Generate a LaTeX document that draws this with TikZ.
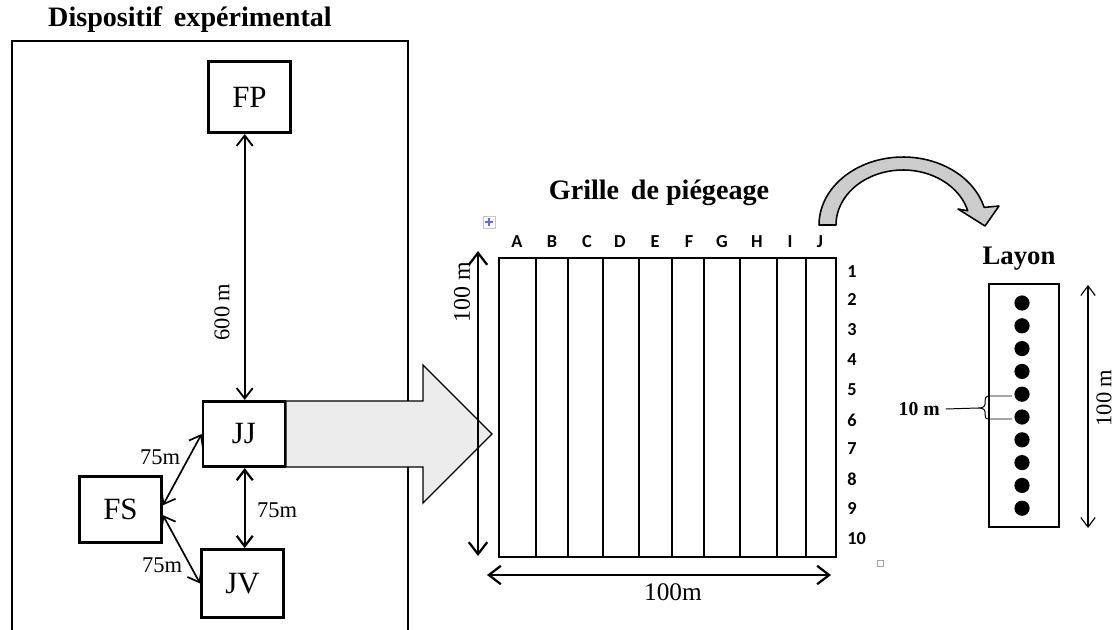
\documentclass[tikz,border=0pt]{standalone}
\usepackage{fontspec}
\setmainfont{Liberation Serif}
\newfontfamily\calibri{Carlito}
\usetikzlibrary{arrows.meta,calc}
\begin{document}
\begin{tikzpicture}[x=0.025cm,y=-0.025cm,
  box/.style={draw,line width=2pt,inner sep=0pt,font=\fontsize{22}{24}\selectfont},
  ttl/.style={font=\bfseries\fontsize{20}{22}\selectfont,inner sep=0pt},
  dim/.style={line width=1.3pt,{Straight Barb[length=2.6mm,width=4mm]}-{Straight Barb[length=2.6mm,width=4mm]}},
  bigdim/.style={line width=1.6pt,{Straight Barb[length=3mm,width=4.6mm]}-{Straight Barb[length=3mm,width=4.6mm]}},
  thindim/.style={line width=0.8pt,{Straight Barb[length=2.4mm,width=3.6mm]}-{Straight Barb[length=2.4mm,width=3.6mm]}},
  lbl/.style={font=\fontsize{16}{18}\selectfont,inner sep=0pt},
  gl/.style={font=\calibri\bfseries\fontsize{13}{15}\selectfont,inner sep=0pt},
  gridline/.style={line width=0.8pt},
  bigarrow/.style={draw,line width=0.9pt,fill=gray!15,line join=miter},
  bentarrow/.style={draw,line width=1.1pt,fill=gray!40,line join=round},
]
\clip (0,0) rectangle (1116,630);
\fill[white] (0,0) rectangle (1116,630);

% ---------- left panel ----------
\node[ttl] (t1) at (190,20) {Dispositif\, expérimental};
\draw[line width=1.4pt] (12,660) -- (12,41) -- (408,41) -- (408,660);

% gray arrow from JJ to grid (drawn under the boxes)
\coordinate (jjne) at (286,401);
\coordinate (jjse) at (286,467);
\path[bigarrow] (jjne) -- (423,401) -- (423,365) -- (492,434) -- (423,503) -- (423,467) -- (jjse) -- cycle;

\node[box,minimum width=2.05cm,minimum height=1.78cm] (FP) at (249.5,97) {FP};
\node[box,minimum width=2.05cm,minimum height=1.63cm] (JJ) at (244,434) {JJ};
\node[box,minimum width=2.05cm,minimum height=1.65cm] (FS) at (120.5,509.5) {FS};
\node[box,minimum width=2.05cm,minimum height=1.70cm] (JV) at (242.5,583.5) {JV};

\draw[dim] ([xshift=0.5pt]JJ.north) -- ([xshift=0.5pt]JJ.north |- FP.south);
\node[lbl] [rotate=90] (l600) at (222,312) {600 m};

\draw[dim,line width=1.6pt] ([xshift=0.5pt]JJ.south) -- ([xshift=0.5pt]JJ.south |- JV.north);
\node[lbl] (l75a) at (277,510) {75m};

\draw[dim,line width=1.2pt] ([yshift=3pt]FS.east) -- (JJ.west);
\node[lbl] (l75b) at (160,457) {75m};
\draw[dim,line width=1.2pt] ([yshift=-4pt]FS.east) -- (JV.west);
\node[lbl] (l75c) at (162,565) {75m};

% ---------- trapping grid ----------
\node[ttl] (t2) at (659,193) {Grille\, de piégeage};
\draw[gray!45,line width=0.6pt] (483,216) rectangle (495,228);
\draw[blue!60,line width=0.8pt] (485,222) -- (493,222) (489,218) -- (489,226);

\draw[gridline] (499,258) rectangle (836,557);
\foreach \x in {536,568,603,639,672,704,740,777,806}
  \draw[gridline] (\x,258) -- (\x,557);
\foreach \l/\x in {A/517,B/552,C/587,D/620,E/655,F/689,G/722,H/757,I/790,J/820}
  \node[gl] (c\l) at (\x,242) {\l};
\foreach \n/\y in {1/272,2/300,3/330,4/360,5/390,6/420,7/449,8/479,9/509,10/539}
  \node[gl,anchor=west] (r\n) at (847,\y) {\n};
\draw[gray!70,line width=0.5pt] (877,560) rectangle (883,566);

\coordinate (vtop) at (478,251);
\coordinate (vbot) at (478,556);
\draw[bigdim] (vbot) -- (vtop);
\node[lbl,rotate=90,font=\fontsize{17}{19}\selectfont] (l100v) at (462,292) {100 m};
\coordinate (hl) at (487,575);
\coordinate (hr) at (831,575);
\draw[bigdim] (hl) -- (hr);
\node[lbl,font=\fontsize{18}{20}\selectfont] (l100h) at (673,592) {100m};

% ---------- bent arrow ----------
\path[bentarrow]
  plot[domain=180:345,samples=50] ({903+84*cos(\x)},{225+68*sin(\x)})
  -- (999,206) -- (985,226) -- (958,209)
  -- plot[domain=345:180,samples=50] ({903+67*cos(\x)},{225+55*sin(\x)}) -- cycle;

% ---------- layon ----------
\node[ttl,font=\bfseries\fontsize{19}{21}\selectfont] (t3) at (1019,259) {Layon};
\draw[line width=1pt] (989,284) rectangle (1059,527);
% brace
\draw[line width=0.7pt] (1012,396) -- (989,396) .. controls (985,396) and (985,399) .. (985,402)
  -- (985,404) .. controls (985,407) and (982,408) .. (978,408)
  .. controls (982,408) and (985,409) .. (985,412) -- (985,414)
  .. controls (985,417) and (985,419) .. (989,419) -- (1012,419);
\node[font=\bfseries\fontsize{14}{16}\selectfont,inner sep=0pt,anchor=east] (l10) at (940,409) {10 m};
\draw[line width=0.7pt] (l10.east) ++(4pt,0) -- (978,408);
\foreach \i in {0,...,9}
  \fill (1022,{303+22.8*\i}) circle[radius=1.9mm];
\coordinate (rtop) at (1088,285);
\coordinate (rbot) at (1088,528);
\draw[thindim] (rbot) -- (rtop);
\node[lbl,rotate=90] (l100r) at (1104,398) {100 m};
\end{tikzpicture}
\end{document}
